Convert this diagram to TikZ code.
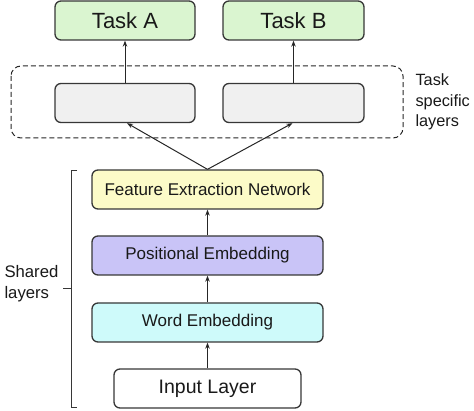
\documentclass[tikz,border=0pt]{standalone}
\usepackage{fontspec}
\setmainfont{Liberation Sans}
\usetikzlibrary{arrows.meta}

\definecolor{taskgreen}{RGB}{218,245,208}
\definecolor{headgray}{RGB}{240,240,240}
\definecolor{fenyellow}{RGB}{252,251,200}
\definecolor{poslilac}{RGB}{201,196,247}
\definecolor{wordcyan}{RGB}{206,250,250}
\definecolor{edge}{RGB}{55,55,55}

\tikzset{
  layer/.style={draw=edge, line width=1.3pt, rounded corners=6pt, minimum height=39pt, inner sep=0pt, text=black!90},
  up/.style={-{Stealth[length=6pt,width=4.5pt]}, draw=black!85, line width=1pt}
}

\begin{document}
\begin{tikzpicture}[x=1pt, y=-1pt]

\useasboundingbox (0,0) rectangle (474,411);

\draw[black!85, dash pattern=on 5pt off 3pt, line width=1pt, rounded corners=10pt] (11,66) rectangle (403,138);

\node[layer, fill=taskgreen, minimum width=140pt, font=\fontsize{22}{24}\selectfont] (ta) at (125,20.5) {Task A};

\node[layer, fill=taskgreen, minimum width=141pt, font=\fontsize{22}{24}\selectfont] (tb) at (293.5,20.5) {Task B};

\node[layer, fill=headgray, minimum width=140pt] (ha) at (125,103) {};

\node[layer, fill=headgray, minimum width=141pt] (hb) at (293.5,103) {};

\node[layer, fill=fenyellow, minimum width=231pt, font=\fontsize{17}{19}\selectfont] (fen) at (207.5,189.5) {Feature Extraction Network};

\node[layer, fill=poslilac, minimum width=231pt, font=\fontsize{17}{19}\selectfont] (pe) at (207.5,255.5) {Positional Embedding};

\node[layer, fill=wordcyan, minimum width=231pt, font=\fontsize{17}{19}\selectfont] (we) at (207.5,322.5) {Word Embedding};

\node[layer, fill=white, minimum width=187pt, font=\fontsize{19.5}{22}\selectfont] (il) at (207.5,388.5) {Input Layer};

\draw[up] (il) -- (we);

\draw[up] (we) -- (pe);

\draw[up] (pe) -- (fen);

\draw[up] (fen.north) -- ([xshift=2pt]ha.south);

\draw[up] (fen.north) -- ([xshift=-1pt]hb.south);

\draw[up] (ha) -- (ta);

\draw[up] (hb) -- (tb);

\draw[edge, line width=1pt] (77,171) -- (71,171) -- (71,408) -- (77,408);

\draw[edge, line width=1pt] (71,289) -- (63,289);

\node[anchor=west, align=left, text=black!90, font=\fontsize{16.7}{21}\selectfont] (sl) at (1,284) {Shared\\layers};

\node[anchor=west, align=left, text=black!90, font=\fontsize{16.3}{20.5}\selectfont] (tl) at (412,102) {Task\\specific\\layers};

\end{tikzpicture}
\end{document}
